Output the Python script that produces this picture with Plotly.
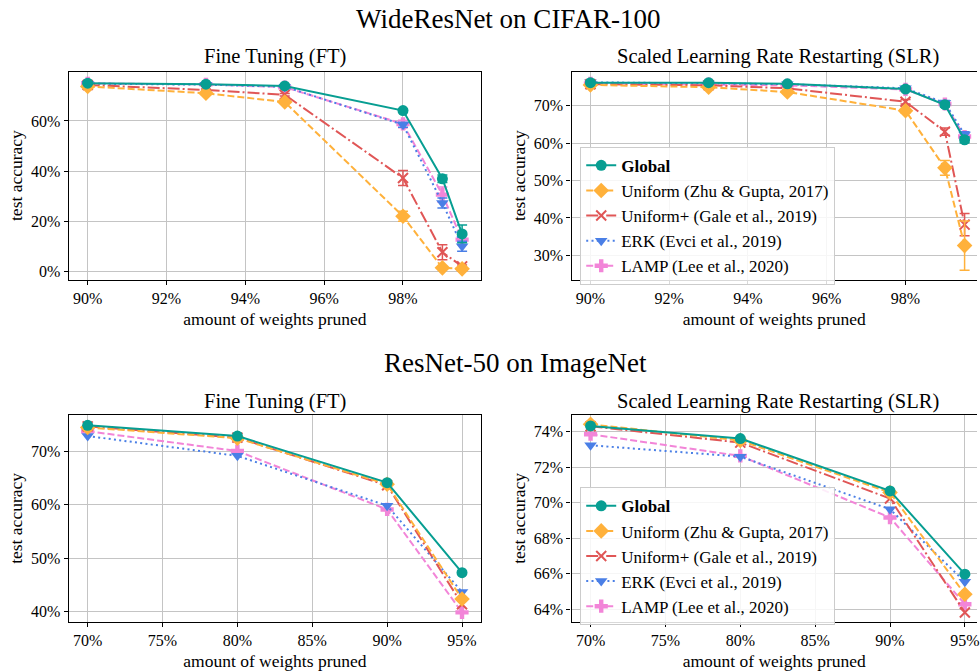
import plotly.graph_objects as go

# ---------------- data ----------------
methods = ["Global", "Uniform (Zhu & Gupta, 2017)", "Uniform+ (Gale et al., 2019)",
           "ERK (Evci et al., 2019)", "LAMP (Lee et al., 2020)"]

sparsity_wrn = [90, 93, 95, 98, 99, 99.5]
sparsity_rn50 = [70, 80, 90, 95]

# WideResNet / CIFAR-100, Fine Tuning
wrn_ft_global = [75.0, 74.6, 73.9, 64.1, 37.0, 15.1]
wrn_ft_uniform = [73.7, 71.0, 67.5, 22.1, 1.6, 1.2]
wrn_ft_uniformp = [74.3, 72.3, 70.4, 37.3, 7.8, 2.2]
wrn_ft_erk = [74.8, 74.4, 73.6, 58.5, 27.4, 10.2]
wrn_ft_lamp = [74.9, 74.5, 73.4, 58.8, 30.7, 12.8]
wrn_ft_global_err = [0.4, 0.4, 0.4, 0.5, 1.5, 3.5]
wrn_ft_uniform_err = [0.4, 0.4, 0.5, 2.0, 0.5, 0.3]
wrn_ft_uniformp_err = [0.4, 0.4, 0.5, 3.0, 3.0, 0.5]
wrn_ft_erk_err = [0.3, 0.3, 0.4, 1.0, 2.0, 2.0]
wrn_ft_lamp_err = [0.3, 0.3, 0.4, 1.5, 3.0, 2.0]

# WideResNet / CIFAR-100, SLR
wrn_slr_global = [76.2, 76.2, 75.9, 74.5, 70.3, 60.9]
wrn_slr_uniform = [75.6, 75.0, 73.7, 68.7, 53.4, 32.6]
wrn_slr_uniformp = [75.8, 75.5, 74.7, 71.1, 63.1, 38.2]
wrn_slr_erk = [76.3, 76.0, 75.8, 74.7, 70.8, 62.3]
wrn_slr_lamp = [76.0, 75.8, 75.5, 74.4, 70.5, 61.8]
wrn_slr_global_err = [0.3, 0.3, 0.3, 0.4, 0.6, 0.8]
wrn_slr_uniform_err = [0.3, 0.3, 0.4, 0.6, 2.0, 6.6]
wrn_slr_uniformp_err = [0.3, 0.3, 0.4, 0.6, 1.0, 3.0]
wrn_slr_erk_err = [0.3, 0.3, 0.3, 0.4, 0.6, 0.8]
wrn_slr_lamp_err = [0.3, 0.3, 0.3, 0.4, 0.6, 0.8]

# ResNet-50 / ImageNet, Fine Tuning
rn_ft_global = [74.8, 72.8, 64.1, 47.3]
rn_ft_uniform = [74.4, 72.4, 63.8, 42.4]
rn_ft_uniformp = [74.6, 72.5, 63.6, 41.4]
rn_ft_erk = [72.8, 69.1, 59.8, 43.7]
rn_ft_lamp = [73.7, 70.0, 59.1, 39.9]

# ResNet-50 / ImageNet, SLR
rn_slr_global = [74.32, 73.61, 70.66, 65.97]
rn_slr_uniform = [74.41, 73.50, 70.57, 64.84]
rn_slr_uniformp = [74.30, 73.38, 70.23, 63.81]
rn_slr_erk = [73.23, 72.59, 69.63, 65.54]
rn_slr_lamp = [73.85, 72.63, 69.16, 64.28]

wrn_x_ticks = [90, 92, 94, 96, 98]
rn_x_ticks = [70, 75, 80, 85, 90, 95]
wrn_ft_y_ticks = [0, 20, 40, 60]
wrn_slr_y_ticks = [30, 40, 50, 60, 70]
rn_ft_y_ticks = [40, 50, 60, 70]
rn_slr_y_ticks = [64, 66, 68, 70, 72, 74]

# ---------------- style ----------------
FONT = "Liberation Serif, Times New Roman, serif"
colors = ["#079e92", "#ffb13b", "#e05656", "#4a7fe6", "#f285d8"]
symbols = ["circle", "diamond", "x-thin-open", "triangle-down", "cross"]
msizes = [11, 12, 10, 11, 11]
dashes = ["solid", "7px,3px", "12px,3px,2px,3px", "2px,3.3px", "7px,3px"]

W, H = 980, 671
def px(x0, x1):
    return [x0 / W, x1 / W]
def py(top, bottom):
    return [1 - bottom / H, 1 - top / H]
def pct(vals):
    return [f"{v}%" for v in vals]

fig = go.Figure()

panels = [
    ("x", "y", sparsity_wrn,
     [wrn_ft_global, wrn_ft_uniform, wrn_ft_uniformp, wrn_ft_erk, wrn_ft_lamp],
     [wrn_ft_global_err, wrn_ft_uniform_err, wrn_ft_uniformp_err, wrn_ft_erk_err, wrn_ft_lamp_err],
     None),
    ("x2", "y2", sparsity_wrn,
     [wrn_slr_global, wrn_slr_uniform, wrn_slr_uniformp, wrn_slr_erk, wrn_slr_lamp],
     [wrn_slr_global_err, wrn_slr_uniform_err, wrn_slr_uniformp_err, wrn_slr_erk_err, wrn_slr_lamp_err],
     "legend"),
    ("x3", "y3", sparsity_rn50,
     [rn_ft_global, rn_ft_uniform, rn_ft_uniformp, rn_ft_erk, rn_ft_lamp],
     None, None),
    ("x4", "y4", sparsity_rn50,
     [rn_slr_global, rn_slr_uniform, rn_slr_uniformp, rn_slr_erk, rn_slr_lamp],
     None, "legend2"),
]

draw_order = [4, 3, 2, 1, 0]
for xa, ya, xs, series, errs, leg in panels:
    for i in draw_order:
        name = "<b>Global</b>" if i == 0 else methods[i]
        marker = dict(color=colors[i], size=msizes[i], symbol=symbols[i],
                      line=dict(width=2 if i == 2 else 0, color=colors[i]))
        kw = {}
        if errs is not None:
            kw["error_y"] = dict(type="data", array=errs[i], visible=True,
                                 color=colors[i], thickness=1.5, width=5)
        fig.add_trace(go.Scatter(
            x=xs, y=series[i], mode="lines+markers", name=name,
            xaxis=xa, yaxis=ya,
            line=dict(color=colors[i], width=2, dash=dashes[i]),
            marker=marker,
            showlegend=leg is not None, legend=leg if leg else "legend",
            legendrank=i + 1, **kw))

axis_common = dict(showgrid=True, gridcolor="#c4c4c4", gridwidth=1,
                   showline=True, linecolor="black", linewidth=1.3,
                   ticks="outside", ticklen=4, tickwidth=1.2, tickcolor="black",
                   zeroline=False, tickmode="array", ticklabeloverflow="allow",
                   tickfont=dict(family=FONT, size=16, color="black"))
xtitle = dict(text="amount of weights pruned", font=dict(family=FONT, size=17.5, color="black"), standoff=6)
ytitle = dict(text="test accuracy", font=dict(family=FONT, size=17.5, color="black"), standoff=3)

leg_common = dict(xanchor="left", yanchor="top",
                  bgcolor="rgba(255,255,255,0.85)", bordercolor="#cccccc", borderwidth=1,
                  font=dict(family=FONT, size=17, color="black"), traceorder="normal",
                  tracegroupgap=0)

fig.update_layout(
    width=W, height=H, margin=dict(l=0, r=0, t=0, b=0),
    paper_bgcolor="white", plot_bgcolor="white", showlegend=True,
    font=dict(family=FONT, color="black"),
    xaxis=dict(domain=px(69, 482.5), range=[89.52, 99.98], tickvals=wrn_x_ticks,
               ticktext=pct(wrn_x_ticks), mirror=True, anchor="y", title=xtitle, **axis_common),
    yaxis=dict(domain=py(71.7, 280), range=[-3.06, 79.6], tickvals=wrn_ft_y_ticks,
               ticktext=pct(wrn_ft_y_ticks), mirror=True, anchor="x", title=ytitle, **axis_common),
    xaxis2=dict(domain=px(573.3, 980), range=[89.52, 99.815], tickvals=wrn_x_ticks,
                ticktext=pct(wrn_x_ticks), mirror=True, anchor="y2", title=xtitle, **axis_common),
    yaxis2=dict(domain=py(71.7, 280), range=[23.5, 79.17], tickvals=wrn_slr_y_ticks,
                ticktext=pct(wrn_slr_y_ticks), mirror=False, anchor="x2", title=ytitle, **axis_common),
    xaxis3=dict(domain=px(69, 482.5), range=[68.74, 96.27], tickvals=rn_x_ticks,
                ticktext=pct(rn_x_ticks), mirror=True, anchor="y3", title=xtitle, **axis_common),
    yaxis3=dict(domain=py(415.7, 622.7), range=[38.14, 76.71], tickvals=rn_ft_y_ticks,
                ticktext=pct(rn_ft_y_ticks), mirror=True, anchor="x3", title=ytitle, **axis_common),
    xaxis4=dict(domain=px(573.3, 980), range=[68.73, 95.81], tickvals=rn_x_ticks,
                ticktext=pct(rn_x_ticks), mirror=True, anchor="y4", title=xtitle, **axis_common),
    yaxis4=dict(domain=py(415.7, 622.7), range=[63.29, 74.93], tickvals=rn_slr_y_ticks,
                ticktext=pct(rn_slr_y_ticks), mirror=False, anchor="x4", title=ytitle, **axis_common),
    legend=dict(x=582 / W, y=1 - 147 / H, **leg_common),
    legend2=dict(x=582 / W, y=1 - 488 / H, **leg_common),
)

def ann(text, x, y, size):
    fig.add_annotation(text=text, x=x / W, y=1 - y / H, xref="paper", yref="paper",
                       xanchor="center", yanchor="middle", showarrow=False,
                       font=dict(family=FONT, size=size, color="black"))

ann("WideResNet on CIFAR-100", 510, 19, 27)
ann("ResNet-50 on ImageNet", 517, 364, 27)
ann("Fine Tuning (FT)", 276, 57, 20.5)
ann("Scaled Learning Rate Restarting (SLR)", 780, 57, 20.5)
ann("Fine Tuning (FT)", 276, 402, 20.5)
ann("Scaled Learning Rate Restarting (SLR)", 780, 402, 20.5)

fig.write_html("out.html", config={"displayModeBar": False},
               post_script="document.body.style.margin='0';document.body.style.overflow='hidden';")
